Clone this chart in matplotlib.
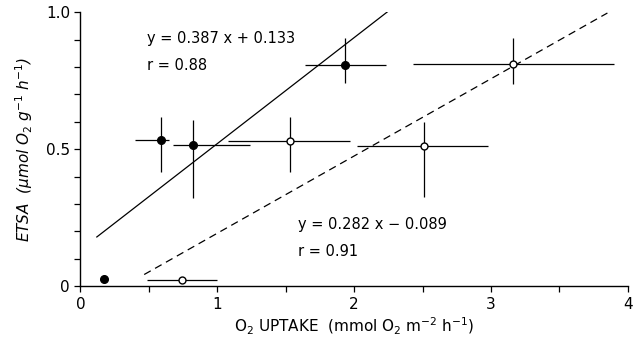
import matplotlib
matplotlib.use("Agg")
from matplotlib import pyplot as plt
import numpy as np

# filled circles
filled_x = [0.17, 0.59, 0.82, 1.93]
filled_y = [0.025, 0.533, 0.515, 0.806]
filled_xlo = [0.0, 0.19, 0.14, 0.29]
filled_xhi = [0.0, 0.06, 0.42, 0.30]
filled_ylo = [0.0, 0.117, 0.195, 0.066]
filled_yhi = [0.0, 0.084, 0.091, 0.099]

# open circles
open_x = [0.74, 1.53, 2.51, 3.16]
open_y = [0.022, 0.53, 0.51, 0.81]
open_xlo = [0.25, 0.45, 0.49, 0.73]
open_xhi = [0.26, 0.44, 0.47, 0.74]
open_ylo = [0.0, 0.114, 0.185, 0.073]
open_yhi = [0.0, 0.087, 0.09, 0.095]

# regression lines (slope, intercept, x range)
fit_filled = (0.387, 0.133, 0.12, 2.25)
fit_open = (0.282, -0.089, 0.466, 3.85)

fig = plt.figure(figsize=(6.33, 3.46), dpi=100)
ax = fig.add_axes([0.127, 0.173, 0.865, 0.792])

ax.errorbar(filled_x, filled_y, xerr=[filled_xlo, filled_xhi],
            yerr=[filled_ylo, filled_yhi], fmt="o", color="black",
            ms=5.5, elinewidth=0.9, capsize=0, zorder=3)
ax.errorbar(open_x, open_y, xerr=[open_xlo, open_xhi],
            yerr=[open_ylo, open_yhi], fmt="o", color="black",
            mfc="white", mec="black", mew=1.0, ms=5, elinewidth=0.9,
            capsize=0, zorder=3)

m, b, x0, x1 = fit_filled
xs = np.array([x0, x1])
ax.plot(xs, m * xs + b, color="black", lw=0.9)
m, b, x0, x1 = fit_open
xs = np.array([x0, x1])
ax.plot(xs, m * xs + b, color="black", lw=0.9, ls=(0, (6, 4)))

ax.text(0.49, 0.905, "y = 0.387 x + 0.133", fontsize=10.5, va="center")
ax.text(0.49, 0.805, "r = 0.88", fontsize=10.5, va="center")
ax.text(1.59, 0.225, "y = 0.282 x \u2212 0.089", fontsize=10.5, va="center")
ax.text(1.59, 0.127, "r = 0.91", fontsize=10.5, va="center")

ax.set_xlim(0, 4)
ax.set_ylim(0, 1.0)
ax.set_xticks([0, 1, 2, 3, 4])
ax.set_xticks(np.arange(0, 4.01, 0.5), minor=True)
ax.set_yticks([0, 0.5, 1.0])
ax.set_yticklabels(["0", "0.5", "1.0"])
ax.set_yticks(np.arange(0, 1.01, 0.1), minor=True)
ax.tick_params(which="both", direction="out", length=4, width=0.9, labelsize=11)

for s in ["top", "right"]:
    ax.spines[s].set_visible(False)
for s in ["left", "bottom"]:
    ax.spines[s].set_linewidth(1.0)
ax.spines["left"].set_bounds(0, 1.0)

ax.set_xlabel(r"O$_2$ UPTAKE  (mmol O$_2$ m$^{-2}$ h$^{-1}$)", fontsize=11, labelpad=3)
ax.set_ylabel(r"ETSA  ($\mu$mol O$_2$ g$^{-1}$ h$^{-1}$)", fontsize=11,
              style="italic", labelpad=8)

fig.savefig("out.png", dpi=100)
